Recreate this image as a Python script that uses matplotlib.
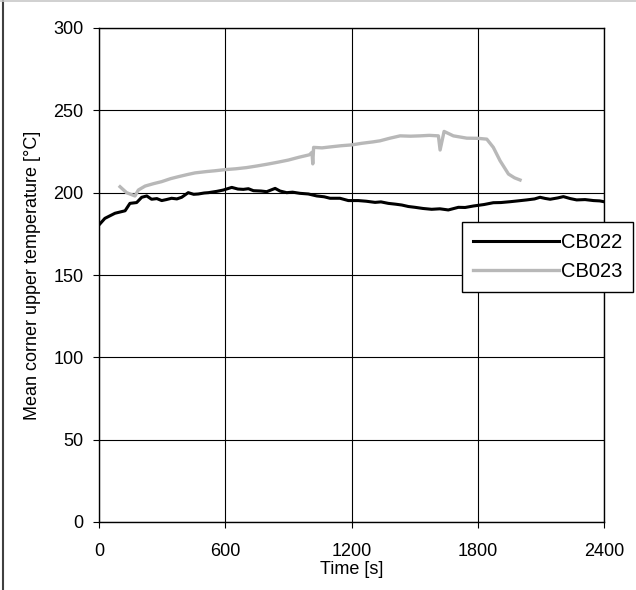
import matplotlib
matplotlib.use('Agg')
import matplotlib.pyplot as plt
from matplotlib.lines import Line2D

plt.rcParams['font.family'] = ['Liberation Sans', 'DejaVu Sans']

# CB022 - black curve
t_cb022 = [0, 28, 76, 124, 147, 179, 203, 227, 250, 275, 298, 320, 345, 370, 393, 424,
           450, 472, 500, 520, 560, 591, 631, 660, 686, 710, 734, 770, 797, 837, 860,
           892, 920, 955, 995, 1035, 1070, 1098, 1145, 1185, 1232, 1270, 1312, 1340,
           1375, 1410, 1439, 1470, 1502, 1540, 1581, 1620, 1660, 1708, 1740, 1779,
           1830, 1874, 1910, 1953, 1990, 2033, 2070, 2096, 2120, 2144, 2180, 2207,
           2240, 2270, 2310, 2350, 2380, 2400]
temp_cb022 = [180.4, 184.4, 187.5, 189.0, 193.5, 194.0, 197.2, 198.0, 196.0, 196.4, 195.2,
              195.8, 196.6, 196.2, 197.2, 200.0, 199.0, 199.2, 199.8, 200.0, 200.8, 201.6,
              203.2, 202.2, 202.0, 202.4, 201.2, 201.0, 200.6, 202.6, 201.0, 200.0, 200.3,
              199.6, 199.2, 198.0, 197.5, 196.6, 196.6, 195.2, 195.2, 194.8, 194.1, 194.4,
              193.5, 193.0, 192.5, 191.6, 191.1, 190.4, 189.9, 190.2, 189.5, 191.1, 191.0,
              191.9, 192.8, 193.9, 194.0, 194.5, 195.0, 195.6, 196.2, 197.2, 196.5, 196.0,
              196.8, 197.6, 196.4, 195.6, 195.8, 195.2, 195.0, 194.5]

# CB023 - grey curve
t_cb023 = [100, 131, 171, 187, 219, 260, 298, 340, 377, 420, 456, 510, 551, 600, 650,
           700, 750, 800, 850, 900, 950, 1000, 1012, 1016, 1020, 1060, 1100, 1150,
           1200, 1250, 1300, 1336, 1380, 1431, 1480, 1526, 1570, 1613, 1621, 1640,
           1684, 1748, 1800, 1843, 1874, 1906, 1946, 1975, 2001]
temp_cb023 = [203.6, 200.0, 198.0, 201.6, 204.0, 205.5, 206.7, 208.5, 209.7, 211.0, 212.0,
              212.8, 213.3, 214.0, 214.5, 215.2, 216.2, 217.3, 218.5, 219.8, 221.5, 223.0,
              224.5, 217.5, 227.5, 227.2, 227.8, 228.5, 229.0, 230.0, 230.8, 231.5, 233.0,
              234.5, 234.3, 234.5, 234.8, 234.5, 225.9, 237.2, 234.5, 233.1, 233.0, 232.5,
              227.5, 219.4, 211.3, 209.0, 207.7]

x_ticks = [0, 600, 1200, 1800, 2400]
y_ticks = [0, 50, 100, 150, 200, 250, 300]

fig = plt.figure(figsize=(6.36, 5.9), dpi=100)
ax = fig.add_axes([99 / 636, 1 - 522 / 590, 505 / 636, 494 / 590])

ax.plot(t_cb022, temp_cb022, color='black', lw=2.2, label='CB022', zorder=3)
ax.plot(t_cb023, temp_cb023, color='#b8b8b8', lw=2.4, label='CB023', zorder=3)

ax.set_xlim(0, 2400)
ax.set_ylim(0, 300)
ax.set_xticks(x_ticks)
ax.set_yticks(y_ticks)
ax.grid(True, color='black', lw=0.8)
ax.set_axisbelow(True)
ax.tick_params(direction='out', length=4, width=0.8, labelsize=13,
               top=False, right=False)
ax.tick_params(axis='x', pad=11)
ax.tick_params(axis='y', pad=7)
for s in ax.spines.values():
    s.set_linewidth(1.0)
    s.set_color('black')

ax.set_xlabel('Time [s]', fontsize=13, labelpad=1)
ax.set_ylabel('Mean corner upper temperature [°C]', fontsize=13, labelpad=9)

fig.legend(loc='upper left', bbox_to_anchor=(462 / 636, 1 - 222 / 590),
           frameon=True, fancybox=False, edgecolor='black', framealpha=1,
           fontsize=14.5, handlelength=4.25, handletextpad=0.1,
           borderaxespad=0, borderpad=0.55, labelspacing=0.5)

# outer border of the picture
fig.add_artist(Line2D([3 / 636, 3 / 636], [0, 1], color='#404040', lw=1.5,
                      transform=fig.transFigure))
fig.add_artist(Line2D([0, 1], [1 - 0.6 / 590, 1 - 0.6 / 590], color='#c8c8c8',
                      lw=1.2, transform=fig.transFigure))

fig.savefig('out.png', dpi=100)
